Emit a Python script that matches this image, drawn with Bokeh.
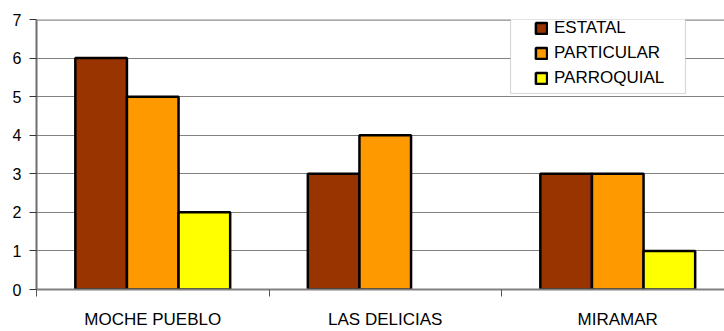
from bokeh.plotting import figure
from bokeh.models import (ColumnDataSource, Range1d, FixedTicker, Legend, LegendItem,
                          Span, BoxAnnotation)
from bokeh.transform import dodge
from bokeh.embed import file_html
from bokeh.resources import INLINE

categories = ["MOCHE PUEBLO", "LAS DELICIAS", "MIRAMAR"]
series_names = ["ESTATAL", "PARTICULAR", "PARROQUIAL"]
estatal = [6, 3, 3]
particular = [5, 4, 3]
parroquial = [2, 0, 1]
y_ticks = [0, 1, 2, 3, 4, 5, 6, 7]

colors = ["#993300", "#FF9900", "#FFFF00"]
FONT = "Liberation Sans"

centers = [i + 0.5 for i in range(len(categories))]

p = figure(width=724, height=331, output_backend="svg", toolbar_location=None,
           x_range=Range1d(0, 688 / 232.5), y_range=Range1d(0, 7),
           min_border_left=36, min_border_right=0, min_border_top=19,
           min_border_bottom=39, outline_line_color=None)
p.background_fill_color = "white"
p.border_fill_color = "white"

bar_w = 0.222
offsets = [-bar_w, 0, bar_w]
renderers = []
for name, vals, col, off in zip(series_names, [estatal, particular, parroquial], colors, offsets):
    src = ColumnDataSource(dict(x=centers, top=vals,
                                la=[0 if v == 0 else 1 for v in vals]))
    r = p.vbar(x=dodge("x", off), top="top", bottom=0, width=bar_w, source=src,
               fill_color=col, line_color="black", line_width=2.5, line_alpha="la")
    renderers.append(r)

# grid
p.xgrid.visible = False
p.ygrid.ticker = FixedTicker(ticks=y_ticks)
p.ygrid.grid_line_color = "#808080"
p.ygrid.grid_line_width = 1
p.add_layout(Span(location=7, dimension="width", line_color="#8c8c8c", line_width=2.5))

# y axis
p.yaxis.ticker = FixedTicker(ticks=y_ticks)
p.yaxis.axis_line_color = "#6e6e6e"
p.yaxis.axis_line_width = 2
p.yaxis.major_tick_line_color = "#333333"
p.yaxis.major_tick_out = 7
p.yaxis.major_tick_in = 0
p.yaxis.minor_tick_line_color = None
p.yaxis.major_label_text_font = FONT
p.yaxis.major_label_text_font_size = "16px"
p.yaxis.major_label_text_color = "black"
p.yaxis.major_label_standoff = 8

# x axis
p.xaxis.ticker = FixedTicker(ticks=centers, minor_ticks=[0, 1, 2])
p.xaxis.major_label_overrides = {c: lab for c, lab in zip(centers, categories)}
p.xaxis.axis_line_color = "#808080"
p.xaxis.axis_line_width = 2
p.xaxis.major_tick_line_color = None
p.xaxis.major_tick_out = 0
p.xaxis.major_tick_in = 0
p.xaxis.minor_tick_line_color = "#555555"
p.xaxis.minor_tick_out = 7
p.xaxis.minor_tick_in = 0
p.xaxis.major_label_text_font = FONT
p.xaxis.major_label_text_font_size = "17px"
p.xaxis.major_label_text_color = "black"
p.xaxis.major_label_standoff = 13

# legend box
box = BoxAnnotation(left=474, right=649, top=279, bottom=196,
                    left_units="screen", right_units="screen",
                    top_units="screen", bottom_units="screen",
                    fill_color="white", fill_alpha=1.0,
                    line_color="#808080", line_width=1.2)
p.add_layout(box)

legend = Legend(items=[LegendItem(label=n, renderers=[r]) for n, r in zip(series_names, renderers)],
                location=(498, 201), padding=0, spacing=5, glyph_width=14, glyph_height=14,
                label_height=20, label_standoff=6,
                label_text_font=FONT, label_text_font_size="17px", label_text_color="black",
                border_line_color=None, background_fill_alpha=0)
p.add_layout(legend, "center")

open("out.html", "w").write(file_html(p, INLINE))
